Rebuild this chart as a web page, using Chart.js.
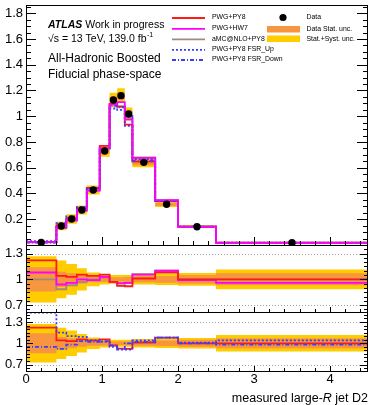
<!DOCTYPE html>
<html>
<head>
<meta charset="utf-8">
<script src="https://cdn.jsdelivr.net/npm/chart.js@4.4.0/dist/chart.umd.min.js"></script>
<style>
  body { margin: 0; background: #fff; }
  #wrap { position: relative; width: 370px; height: 405px; }
  #wrap canvas { position: absolute; left: 0; top: 0; }
</style>
</head>
<body>
<div id="wrap">
  <canvas id="main" width="370" height="405"></canvas>
  <canvas id="ratio1" width="370" height="405"></canvas>
  <canvas id="ratio2" width="370" height="405"></canvas>
</div>
<script>
// bin edges of large-R jet D2
const edges = [0, 0.4, 0.53, 0.67, 0.8, 0.97, 1.1, 1.2, 1.3, 1.4, 1.7, 2.0, 2.5, 4.5];

// normalised distributions (main panel)
const dataVals = [0.02, 0.148, 0.202, 0.272, 0.427, 0.73, 1.126, 1.16, 1.017, 0.642, 0.316, 0.142, 0.018];
const pwgPy8   = [0.025, 0.154, 0.208, 0.287, 0.444, 0.77, 1.095, 1.073, 0.935, 0.648, 0.341, 0.142, 0.018];
const pwgHw7   = [0.022, 0.139, 0.194, 0.272, 0.423, 0.752, 1.092, 1.11, 0.976, 0.677, 0.348, 0.14, 0.017];
const amcPy8   = [0.02, 0.131, 0.188, 0.264, 0.427, 0.745, 1.092, 1.079, 0.976, 0.68, 0.348, 0.142, 0.018];
const fsrUp    = [0.029, 0.17, 0.222, 0.296, 0.444, 0.745, 1.06, 1.05, 0.925, 0.668, 0.341, 0.143, 0.019];
const fsrDown  = [0.019, 0.136, 0.198, 0.28, 0.436, 0.752, 1.08, 1.07, 1.017, 0.655, 0.341, 0.142, 0.017];

// relative uncertainties of the data
const statUnc = [0.14, 0.09, 0.07, 0.05, 0.035, 0.03, 0.025, 0.025, 0.03, 0.035, 0.04, 0.05, 0.07];
const totUnc  = [0.27, 0.22, 0.18, 0.13, 0.08, 0.06, 0.05, 0.05, 0.05, 0.06, 0.065, 0.075, 0.115];

// MC / data ratios
const rPwgPy8  = [1.22, 1.04, 1.03, 1.055, 1.04, 1.055, 0.97, 0.925, 0.92, 1.01, 1.08, 1.0, 1.0];
const rPwgHw7  = [1.08, 0.94, 0.96, 1.0, 0.99, 1.03, 0.97, 0.955, 0.96, 1.055, 1.1, 0.99, 0.96];
const rAmcPy8  = [1.0, 0.885, 0.93, 0.97, 1.0, 1.02, 0.97, 0.93, 0.96, 1.06, 1.1, 1.0, 1.0];
const rFsrUp   = [1.43, 1.15, 1.1, 1.09, 1.04, 1.02, 0.95, 0.91, 0.91, 1.04, 1.08, 1.01, 1.04];
const rFsrDown = [0.95, 0.92, 0.98, 1.03, 1.02, 1.03, 0.97, 0.92, 1.0, 1.02, 1.08, 1.0, 0.98];

// tick labels
const mainTicks  = [0.2, 0.4, 0.6, 0.8, 1, 1.2, 1.4, 1.6, 1.8];
const ratioTicks = [0.7, 1, 1.3];
const xTicks     = [0, 1, 2, 3, 4];

const FONT = "'Liberation Sans', Arial, Helvetica, sans-serif";
Chart.defaults.font.family = FONT;
Chart.defaults.color = '#000';

const RED = '#ff1a1a', MAG = '#ff00ff', AMC = '#a08a7e', BLUE = '#3c3cff';
const ORANGE = '#f7963e', YELLOW = '#ffcc00';

// histogram outline: every bin gives its two corners
function steps(vals) {
  const pts = [];
  vals.forEach((v, i) => {
    pts.push({ x: edges[i], y: v });
    pts.push({ x: edges[i + 1], y: v });
  });
  return pts;
}

function histLine(label, vals, color, dash, order) {
  return {
    label: label, data: steps(vals), borderColor: color, borderWidth: 1.8,
    borderDash: dash || [], pointRadius: 0, fill: false, tension: 0, order: order
  };
}

function band(lo, hi, color, order) {
  return [
    { data: steps(hi), borderColor: 'transparent', borderWidth: 0, pointRadius: 0,
      backgroundColor: color, fill: '+1', order: order },
    { data: steps(lo), borderColor: 'transparent', borderWidth: 0, pointRadius: 0,
      fill: false, order: order - 1 }
  ];
}

function yAxis(min, max, ticks) {
  return {
    type: 'linear', min: min, max: max,
    grid: { display: false, drawTicks: false },
    border: { display: false },
    ticks: { font: { size: 13 }, padding: 3, autoSkip: false, callback: v => String(+v.toFixed(2)) },
    afterBuildTicks: s => { s.ticks = ticks.map(v => ({ value: v })); },
    afterFit: s => { s.width = 26; s.paddingTop = 0; s.paddingBottom = 0; }
  };
}

function xAxis(show) {
  return {
    type: 'linear', min: 0, max: 4.5, display: show,
    grid: { display: false, drawTicks: false },
    border: { display: false },
    ticks: { font: { size: 13 }, padding: 1, autoSkip: false, maxRotation: 0 },
    afterBuildTicks: s => { s.ticks = xTicks.map(v => ({ value: v })); },
    afterFit: s => {
      s.paddingLeft = 0; s.paddingRight = 0;
      s.height = show ? 34 : 0;
    }
  };
}

// ROOT-like frame with inner ticks and dotted reference lines
const framePlugin = {
  id: 'frame',
  beforeDatasetsDraw(chart, args, o) {
    if (!o.dotted) return;
    const ctx = chart.ctx, a = chart.chartArea, ys = chart.scales.y;
    ctx.save();
    ctx.strokeStyle = '#a0a0a0';
    ctx.lineWidth = 1;
    ctx.setLineDash([1, 2]);
    o.dotted.forEach(v => {
      const py = Math.round(ys.getPixelForValue(v)) + 0.5;
      ctx.beginPath(); ctx.moveTo(a.left, py); ctx.lineTo(a.right, py); ctx.stroke();
    });
    ctx.restore();
  },
  afterDatasetsDraw(chart, args, o) {
    const ctx = chart.ctx, a = chart.chartArea, xs = chart.scales.x, ys = chart.scales.y;
    ctx.save();
    ctx.strokeStyle = '#000';
    ctx.lineWidth = 1;
    ctx.beginPath();
    // y ticks, left and right
    const k0 = Math.ceil(ys.min / o.yStep - 1e-6), k1 = Math.floor(ys.max / o.yStep + 1e-6);
    for (let k = k0; k <= k1; k++) {
      const v = k * o.yStep;
      const major = o.yMajors.some(m => Math.abs(m - v) < 1e-6);
      const py = Math.round(ys.getPixelForValue(v)) + 0.5;
      const l = major ? o.yMaj : o.yMin;
      ctx.moveTo(a.left, py); ctx.lineTo(a.left + l, py);
      ctx.moveTo(a.right, py); ctx.lineTo(a.right - l - (major ? 1 : 0), py);
    }
    // x ticks at the bottom
    for (let k = 1; k <= 22; k++) {
      const v = k * 0.2;
      const major = Math.abs(v - Math.round(v)) < 1e-6;
      const px = Math.round(xs.getPixelForValue(v)) + 0.5;
      const l = major ? o.xMaj : o.xMin;
      ctx.moveTo(px, a.bottom); ctx.lineTo(px, a.bottom - l);
    }
    ctx.stroke();
    ctx.strokeRect(a.left + 0.5, a.top + 0.5, a.right - a.left - 1, a.bottom - a.top);
    ctx.restore();
  }
};

// ATLAS label and legend on the main panel
const labelPlugin = {
  id: 'labels',
  afterDraw(chart) {
    const ctx = chart.ctx;
    ctx.save();
    ctx.fillStyle = '#000';
    ctx.textBaseline = 'alphabetic';
    ctx.font = 'italic bold 10.5px ' + FONT;
    ctx.fillText('ATLAS', 48, 27.5);
    const wA = ctx.measureText('ATLAS').width;
    ctx.font = '10.5px ' + FONT;
    ctx.fillText('Work in progress', 48 + wA + 3, 27.5);
    const s1 = '\u221As = 13 TeV, 139.0 fb';
    ctx.fillText(s1, 48, 42);
    const w1 = ctx.measureText(s1).width;
    ctx.font = '7px ' + FONT;
    ctx.fillText('-1', 48 + w1 + 0.5, 37);
    ctx.font = '12px ' + FONT;
    ctx.fillText('All-Hadronic Boosted', 48, 61.5);
    ctx.fillText('Fiducial phase-space', 48, 77.5);

    // legend, left column: MC lines
    const rows = [17.5, 28.3, 38.8, 49.3, 59.5];
    ctx.font = '6.9px ' + FONT;
    ctx.textBaseline = 'middle';
    const lines = chart.data.datasets.filter(d => d.legendLine);
    lines.forEach((d, i) => {
      const y = rows[i] + 0.5;
      ctx.strokeStyle = d.borderColor;
      ctx.lineWidth = d.borderWidth;
      ctx.setLineDash(d.borderDash);
      ctx.beginPath(); ctx.moveTo(172, y); ctx.lineTo(205, y); ctx.stroke();
      ctx.setLineDash([]);
      ctx.fillText(d.label, 212, rows[i]);
    });
    // right column: data, bands
    ctx.beginPath();
    ctx.arc(283, rows[0], 3.6, 0, Math.PI * 2);
    ctx.fill();
    ctx.fillText('Data', 306.5, rows[0]);
    ctx.fillStyle = ORANGE;
    ctx.fillRect(267, 26, 33, 6.5);
    ctx.fillStyle = YELLOW;
    ctx.fillRect(267, 35.5, 33, 6.5);
    ctx.fillStyle = '#000';
    ctx.fillText('Data Stat. unc.', 306.5, 29.3);
    ctx.fillText('Stat.+Syst. unc.', 306.5, 38.8);
    ctx.restore();
  }
};

// axis title under the lowest panel
const titlePlugin = {
  id: 'xtitle',
  afterDraw(chart) {
    const ctx = chart.ctx;
    ctx.save();
    ctx.fillStyle = '#000';
    ctx.textBaseline = 'alphabetic';
    const t1 = 'measured large-', t2 = 'R', t3 = ' jet D2';
    ctx.font = '12.5px ' + FONT;
    const w1 = ctx.measureText(t1).width, w3 = ctx.measureText(t3).width;
    ctx.font = 'italic 12.5px ' + FONT;
    const w2 = ctx.measureText(t2).width;
    let x = 368 - (w1 + w2 + w3);
    ctx.font = '12.5px ' + FONT;
    ctx.fillText(t1, x, 402);
    ctx.font = 'italic 12.5px ' + FONT;
    ctx.fillText(t2, x + w1, 402);
    ctx.font = '12.5px ' + FONT;
    ctx.fillText(t3, x + w1 + w2, 402);
    ctx.restore();
  }
};

function baseOptions(pad, yScale, showX, frame) {
  return {
    responsive: false,
    animation: false,
    events: [],
    layout: { padding: pad, autoPadding: false },
    scales: { x: xAxis(showX), y: yScale },
    plugins: { legend: { display: false }, tooltip: { enabled: false }, frame: frame }
  };
}

// main panel
const statHi = dataVals.map((v, i) => v * (1 + statUnc[i]));
const statLo = dataVals.map((v, i) => v * (1 - statUnc[i]));
const totHi = dataVals.map((v, i) => v * (1 + totUnc[i]));
const totLo = dataVals.map((v, i) => v * (1 - totUnc[i]));
const centers = dataVals.map((v, i) => ({ x: (edges[i] + edges[i + 1]) / 2, y: v }));

// order: higher is drawn first, magenta ends up on top of the other lines
const mainSets = [].concat(
  band(totLo, totHi, YELLOW, 30),
  band(statLo, statHi, ORANGE, 20),
  [
    Object.assign(histLine('PWG+PY8', pwgPy8, RED, null, 9), { legendLine: true }),
    Object.assign(histLine('PWG+HW7', pwgHw7, MAG, null, 5), { legendLine: true }),
    Object.assign(histLine('aMC@NLO+PY8', amcPy8, AMC, null, 10), { legendLine: true }),
    Object.assign(histLine('PWG+PY8 FSR_Up', fsrUp, BLUE, [2, 2], 7), { legendLine: true }),
    Object.assign(histLine('PWG+PY8 FSR_Down', fsrDown, BLUE, [4, 2, 1, 2], 6), { legendLine: true }),
    { label: 'Data', data: centers, showLine: false, pointRadius: 3.7, pointBackgroundColor: '#000',
      pointBorderWidth: 0, borderColor: '#000', order: 0 }
  ]
);

new Chart(document.getElementById('main'), {
  type: 'line',
  data: { datasets: mainSets },
  options: baseOptions({ top: 5, bottom: 160, left: 0, right: 2 }, yAxis(0, 1.864, mainTicks), false,
    { yStep: 0.05, yMajors: mainTicks, yMaj: 10, yMin: 5, xMaj: 8, xMin: 4 }),
  plugins: [framePlugin, labelPlugin]
});

// ratio bands around unity
const rStatHi = statUnc.map(u => 1 + u), rStatLo = statUnc.map(u => 1 - u);
const rTotHi = totUnc.map(u => 1 + u), rTotLo = totUnc.map(u => 1 - u);

new Chart(document.getElementById('ratio1'), {
  type: 'line',
  data: { datasets: [].concat(
    band(rTotLo, rTotHi, YELLOW, 30),
    band(rStatLo, rStatHi, ORANGE, 20),
    [
      histLine('aMC@NLO+PY8', rAmcPy8, AMC, null, 10),
      histLine('PWG+HW7', rPwgHw7, MAG, null, 9),
      histLine('PWG+PY8', rPwgPy8, RED, null, 8)
    ]) },
  options: baseOptions({ top: 245, bottom: 93, left: 0, right: 2 }, yAxis(0.62, 1.4, ratioTicks), false,
    { dotted: ratioTicks, yStep: 0.05, yMajors: ratioTicks, yMaj: 7, yMin: 4, xMaj: 5, xMin: 3 }),
  plugins: [framePlugin]
});

new Chart(document.getElementById('ratio2'), {
  type: 'line',
  data: { datasets: [].concat(
    band(rTotLo, rTotHi, YELLOW, 30),
    band(rStatLo, rStatHi, ORANGE, 20),
    [
      histLine('PWG+PY8', rPwgPy8, RED, null, 10),
      histLine('PWG+PY8 FSR_Up', rFsrUp, BLUE, [2, 2], 9),
      histLine('PWG+PY8 FSR_Down', rFsrDown, BLUE, [4, 2, 1, 2], 8)
    ]) },
  options: baseOptions({ top: 312, bottom: 0, left: 0, right: 2 }, yAxis(0.61, 1.44, ratioTicks), true,
    { dotted: ratioTicks, yStep: 0.05, yMajors: ratioTicks, yMaj: 7, yMin: 4, xMaj: 5, xMin: 3 }),
  plugins: [framePlugin, titlePlugin]
});
</script>
</body>
</html>
